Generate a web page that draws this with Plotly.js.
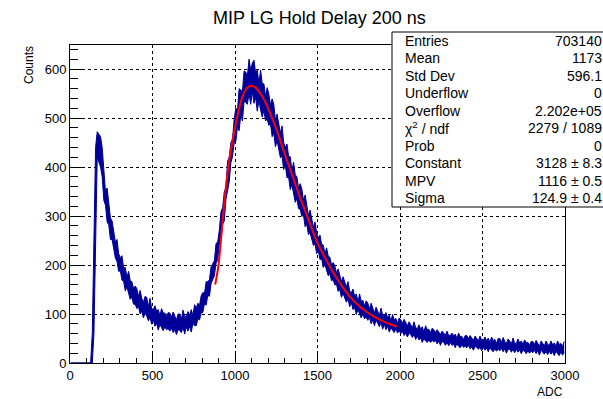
<!DOCTYPE html>
<html>
<head>
<meta charset="utf-8">
<script src="https://cdn.plot.ly/plotly-3.0.1.min.js"></script>
<style>html,body{margin:0;padding:0;background:#fff;overflow:hidden}#chart{width:603px;height:399px}</style>
</head>
<body>
<div id="chart"></div>
<script>
// Histogram, grouped in 10-ADC bins from 0 to 3000.
// For each group: highest and lowest bin content visible in the noisy band.
const binStart = 0;
const binWidth = 10;
const countsHigh = [
  0,0,0,0,0,0,0,0,0,0,
  0,0,0,60,300,440,472,468,462,440,
  391,350,357,326,296,290,272,247,252,223,
  215,219,194,195,175,187,168,166,152,157,
  152,136,148,132,124,136,134,115,132,111,
  109,117,106,109,97,111,102,102,94,103,
  102,94,104,96,88,100,100,89,108,95,
  95,105,98,109,97,119,112,122,118,137,
  144,142,166,166,170,196,202,209,244,247,
  271,309,317,349,358,412,420,450,457,498,
  520,516,560,556,554,596,594,586,620,598,
  612,618,592,598,570,598,570,570,544,562,
  549,526,539,528,495,508,489,469,484,450,
  440,447,421,421,392,410,384,380,357,366,
  355,332,343,318,301,312,295,277,288,265,
  255,261,242,241,223,235,218,216,200,205,
  198,184,192,178,166,176,164,155,166,147,
  143,151,136,141,125,141,126,128,116,127,
  122,110,122,110,102,114,106,97,112,97,
  96,103,92,98,86,99,88,91,81,92,
  88,81,89,82,76,84,79,72,84,72,
  70,78,69,74,63,76,68,69,62,71,
  68,62,68,62,58,65,61,57,65,56,
  56,61,55,59,50,61,54,54,48,56,
  56,50,56,50,46,55,49,45,55,46,
  46,53,45,51,42,53,46,48,40,50,
  50,42,52,44,40,49,45,39,51,40,
  40,49,41,45,38,47,42,42,36,44,
  44,38,46,40,34,45,39,35,45,38,
  36,45,37,41,34,45,38,40,34,44
];
const countsLow = [
  0,0,0,0,0,0,0,0,0,0,
  0,0,0,0,60,290,420,410,400,380,
  332,322,288,282,252,252,232,214,207,187,
  188,169,167,147,155,140,130,134,120,120,
  111,115,100,106,92,102,96,86,93,79,
  88,75,81,67,79,72,66,74,68,70,
  65,71,62,68,58,68,66,62,73,59,
  74,65,75,63,81,76,76,90,88,102,
  103,121,118,138,136,162,170,178,203,211,
  242,253,283,290,334,354,370,409,421,450,
  452,482,474,506,494,534,532,528,550,528,
  554,530,542,514,536,516,502,516,494,498,
  485,488,462,469,441,454,438,419,422,395,
  404,378,379,354,364,344,328,335,315,314,
  299,302,278,283,262,266,254,240,243,223,
  230,211,213,195,201,188,178,182,168,170,
  159,161,146,150,134,142,134,124,131,115,
  124,109,113,99,109,100,92,100,90,94,
  87,93,80,88,76,88,82,74,83,69,
  79,68,75,63,72,67,62,70,61,66,
  60,64,56,61,53,61,58,52,58,48,
  55,47,51,42,50,45,42,47,42,46,
  43,46,39,45,36,44,42,36,42,35,
  42,36,39,31,40,34,31,37,32,34,
  31,36,29,33,26,34,32,28,32,25,
  32,26,31,23,32,26,23,29,24,28,
  25,30,23,29,20,28,28,22,28,21,
  28,22,27,19,26,24,19,25,20,24,
  21,26,19,25,16,26,22,18,24,17,
  24,18,23,15,24,20,15,23,16,22
];

// Landau fit curve
const fitX = [880,900,925,950,975,1000,1025,1050,1075,1100,1125,1150,1175,1200,1250,1300,1350,1400,1450,1500,1550,1600,1650,1700,1750,1800,1850,1900,1950,1980];
const fitY = [160,200,290,375,435,480,520,548,562,566,562,552,538,520,478,428,380,333,288,245,212,182,156,134,117,104,93,85,78,74];

// Tick labels
const xTickVals = [0,500,1000,1500,2000,2500,3000];
const xTickText = ["0","500","1000","1500","2000","2500","3000"];
const yTickVals = [0,100,200,300,400,500,600];
const yTickText = ["0","100","200","300","400","500","600"];

// Stats box
const statNames = ["Entries","Mean","Std Dev","Underflow","Overflow","χ<sup>2</sup> / ndf","Prob","Constant","MPV","Sigma"];
const statValues = ["703140","1173","596.1","0","2.202e+05","2279 / 1089","0","3128 ± 8.3","1116 ± 0.5","124.9 ± 0.4"];

const binX = countsHigh.map((_, i) => binStart + (i + 0.5) * binWidth);

const FONT = '"Liberation Sans", Arial, Helvetica, sans-serif';
const W = 603, H = 399, L = 70, R = 38, T = 45, B = 36;
const pw = W - L - R, ph = H - T - B;
const px = v => (v - L) / pw;
const py = v => (H - B - v) / ph;

const HC = '#000099';
const traces = [
  {x: binX, y: countsLow, type: 'scatter', mode: 'lines', line: {color: HC, width: 1}, hoverinfo: 'skip'},
  {x: binX, y: countsHigh, type: 'scatter', mode: 'lines', line: {color: HC, width: 1}, fill: 'tonexty', fillcolor: HC, hoverinfo: 'skip'},
  {x: fitX, y: fitY, type: 'scatter', mode: 'lines', line: {shape: 'spline', color: '#ff0000', width: 2}, hoverinfo: 'skip'}
];

const annotations = [];
const lineTop = 41, lineStep = 17.45;
statNames.forEach((n, i) => {
  annotations.push({xref: 'paper', yref: 'paper', x: px(403), y: py(lineTop + i * lineStep), xanchor: 'left', yanchor: 'middle',
    text: n, showarrow: false, font: {family: FONT, size: 14, color: '#000'}});
  annotations.push({xref: 'paper', yref: 'paper', x: px(604), y: py(lineTop + i * lineStep), xanchor: 'right', yanchor: 'middle',
    text: statValues[i], showarrow: false, font: {family: FONT, size: 14, color: '#000'}});
});
annotations.push({xref: 'paper', yref: 'paper', x: px(319), y: py(18), xanchor: 'center', yanchor: 'middle',
  text: 'MIP LG Hold Delay 200 ns', showarrow: false, font: {family: FONT, size: 18, color: '#000'}});
annotations.push({xref: 'paper', yref: 'paper', x: px(565), y: py(392), xanchor: 'right', yanchor: 'middle',
  text: 'ADC', showarrow: false, font: {family: FONT, size: 12, color: '#000'}});
annotations.push({xref: 'paper', yref: 'paper', x: px(29), y: py(44), xanchor: 'center', yanchor: 'top', textangle: -90,
  text: 'Counts', showarrow: false, font: {family: FONT, size: 12, color: '#000'}});

const layout = {
  width: W, height: H,
  margin: {l: L, r: R, t: T, b: B},
  paper_bgcolor: '#fff', plot_bgcolor: '#fff',
  showlegend: false,
  font: {family: FONT, size: 13, color: '#000'},
  xaxis: {range: [0, 3000], tickvals: xTickVals, ticktext: xTickText, ticks: 'inside', ticklen: 9, tickwidth: 1, tickcolor: '#000',
    showline: true, mirror: true, linecolor: '#000', linewidth: 1, zeroline: false,
    showgrid: true, gridcolor: '#000', griddash: 'dot', gridwidth: 1,
    minor: {dtick: 100, tick0: 0, ticks: 'inside', ticklen: 5, tickcolor: '#000', showgrid: false},
    tickfont: {family: FONT, size: 13, color: '#000'}},
  yaxis: {range: [0, 649], tickvals: yTickVals, ticktext: yTickText, ticks: 'inside', ticklen: 15, tickwidth: 1, tickcolor: '#000',
    showline: true, mirror: true, linecolor: '#000', linewidth: 1, zeroline: false,
    showgrid: true, gridcolor: '#000', griddash: 'dot', gridwidth: 1,
    minor: {dtick: 20, tick0: 0, ticks: 'inside', ticklen: 7.5, tickcolor: '#000', showgrid: false},
    tickfont: {family: FONT, size: 13, color: '#000'}},
  shapes: [
    {type: 'rect', xref: 'paper', yref: 'paper', x0: px(392), x1: px(615), y0: py(32), y1: py(207),
      fillcolor: '#fff', line: {color: '#000', width: 1}, layer: 'above'}
  ],
  annotations: annotations
};

Plotly.newPlot('chart', traces, layout, {staticPlot: true, displayModeBar: false});
</script>
</body>
</html>
